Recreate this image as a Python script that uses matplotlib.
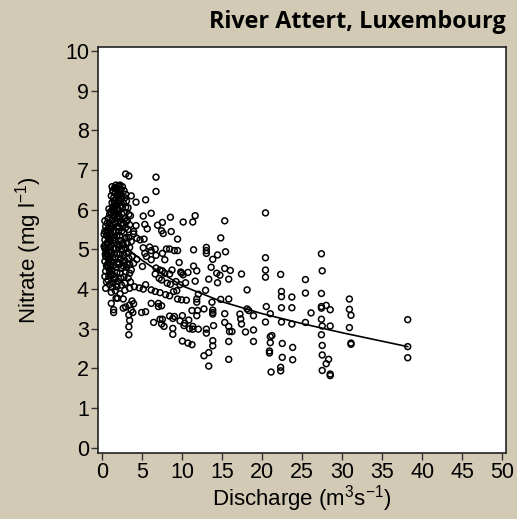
import numpy as np
import matplotlib
matplotlib.use("Agg")
import matplotlib.pyplot as plt

plt.rcParams['font.family'] = ['Liberation Sans', 'DejaVu Sans']
plt.rcParams['mathtext.fontset'] = 'custom'
plt.rcParams['mathtext.rm'] = 'Liberation Sans'
plt.rcParams['mathtext.it'] = 'Liberation Sans'

# discharge (m3/s) and nitrate (mg/l) samples, low-flow cluster first
q_low = [0.3, 0.4, 0.3, 0.5, 0.3, 0.4, 0.3, 0.5, 0.4, 0.3, 0.5, 0.4, 0.3, 0.5, 0.4, 0.6, 0.6, 0.6, 0.6, 0.6, 0.2, 0.2,
         0.8, 0.9, 0.7, 0.9, 0.8, 0.7, 0.9, 0.8, 0.7, 0.9, 0.8, 0.7, 0.9, 0.8, 0.7, 0.9, 0.8, 0.9, 1.0, 1.0, 1.0, 1.0, 1.0, 1.0,
         1.2, 1.3, 1.1, 1.4, 1.2, 1.3, 1.1, 1.4, 1.2, 1.3, 1.1, 1.4, 1.2, 1.3, 1.1, 1.4, 1.2, 1.3, 1.1, 1.4, 1.2, 1.3, 1.5, 1.2,
         1.5, 1.5, 1.5, 1.5, 1.5,
         1.7, 1.8, 1.6, 1.9, 1.7, 1.8, 1.6, 1.9, 1.7, 1.8, 1.6, 1.9, 1.7, 1.8, 1.6, 1.9, 1.7, 1.8, 1.6, 1.9, 1.7, 1.8, 1.6, 1.9,
         2.0, 2.0, 2.0, 2.0, 2.0, 2.0, 1.8,
         2.2, 2.3, 2.1, 2.4, 2.2, 2.3, 2.1, 2.4, 2.2, 2.3, 2.1, 2.4, 2.2, 2.3, 2.1, 2.4, 2.2, 2.3, 2.1, 2.4, 2.2, 2.3,
         2.5, 2.5, 2.5, 2.5, 2.5, 2.4, 2.2,
         2.7, 2.8, 2.6, 2.9, 2.7, 2.8, 2.6, 2.9, 2.7, 2.8, 2.6, 2.9, 2.7, 2.8, 2.6, 2.9, 2.7, 2.8, 3.0, 3.0, 3.0, 3.0, 3.0, 2.9,
         3.2, 3.3, 3.1, 3.4, 3.2, 3.3, 3.1, 3.4, 3.2, 3.3, 3.1, 3.4, 3.2, 3.5, 3.6, 3.5,
         1.35, 1.65, 1.95, 2.25, 1.45, 1.75, 2.05, 2.35, 1.25, 1.55, 1.85, 2.15, 0.55, 0.85, 0.45, 0.75, 1.05, 0.35, 0.65, 0.95]
no3_low = [5.72, 5.58, 5.46, 5.35, 5.24, 5.12, 5.02, 4.93, 4.82, 4.70, 4.58, 4.45, 4.32, 4.18, 4.02, 5.66, 5.40, 5.15, 4.88, 4.62, 5.38, 5.08,
           6.02, 5.88, 5.78, 5.66, 5.55, 5.46, 5.36, 5.26, 5.16, 5.06, 4.96, 4.86, 4.76, 4.66, 4.54, 4.44, 4.33, 4.12, 5.95, 5.50, 5.22, 4.92, 4.60, 4.38,
           6.58, 6.48, 6.35, 6.30, 6.18, 6.05, 5.92, 5.85, 5.74, 5.62, 5.52, 5.44, 5.33, 5.22, 5.12, 5.03, 4.92, 4.80, 4.70, 4.60, 4.48, 4.36, 4.25, 4.05,
           6.55, 6.15, 5.70, 5.30, 4.88,
           6.62, 6.52, 6.42, 6.38, 6.28, 6.18, 6.08, 6.00, 5.90, 5.78, 5.66, 5.58, 5.46, 5.35, 5.24, 5.14, 5.02, 4.90, 4.78, 4.68, 4.55, 4.42, 4.30, 4.20,
           6.60, 6.25, 5.85, 5.45, 5.05, 4.62, 4.12,
           6.62, 6.50, 6.44, 6.34, 6.22, 6.10, 5.98, 5.90, 5.78, 5.64, 5.55, 5.46, 5.34, 5.22, 5.10, 5.00, 4.88, 4.76, 4.64, 4.52, 4.40, 4.28,
           6.58, 6.05, 5.60, 5.15, 4.70, 4.10, 3.88,
           6.48, 6.30, 6.18, 6.06, 5.92, 5.78, 5.66, 5.55, 5.42, 5.28, 5.12, 5.02, 4.86, 4.72, 4.58, 4.44, 4.30, 4.15, 6.22, 5.70, 5.30, 4.90, 4.55, 3.55,
           6.05, 5.88, 5.74, 5.62, 5.50, 5.30, 5.15, 5.05, 4.92, 4.78, 4.62, 4.40, 4.28, 4.18, 5.20, 5.85,
           6.45, 6.55, 6.35, 6.50, 6.22, 6.12, 6.40, 6.28, 5.98, 5.95, 6.05, 5.82, 5.48, 5.28, 4.98, 4.75, 4.55, 4.88, 5.18, 5.60]

q_mid = [2.9, 3.3, 6.7, 6.7, 5.4, 4.2, 3.6, 2.9, 6.1, 5.1, 8.5, 7.5, 6.9, 5.3, 4.2, 5.6, 7.4, 7.6, 3.9, 3.9,
         8.6, 9.4, 4.3, 4.7, 5.2, 5.1, 5.9, 6.1, 6.6, 8.0, 8.4, 9.0, 9.4, 7.5, 6.7, 5.3, 5.5, 3.7, 4.3, 6.1,
         7.8, 9.6, 5.0, 3.9, 3.4, 6.7, 7.2, 7.5, 8.7, 3.6, 7.8, 8.4, 6.6, 9.9, 7.1, 7.4, 8.1, 8.5, 9.2, 9.7,
         5.4, 6.1, 6.6, 7.2, 8.9, 9.3, 4.6, 5.1, 3.4, 4.0, 2.8, 1.8, 1.6, 1.1, 1.1, 1.7, 2.6, 3.7, 3.9, 3.4,
         1.4, 1.4, 2.6, 3.6, 3.8, 4.9, 5.4, 7.0, 7.0, 7.4, 6.1, 7.9, 8.4, 9.4, 9.9, 6.4, 7.2, 7.5, 7.4, 7.7,
         8.4, 8.8, 9.0, 9.7, 10.3, 10.9, 8.8, 8.8, 3.3, 3.4, 3.3, 3.3, 0.7, 1.35, 1.9]
no3_mid = [6.90, 6.85, 6.82, 6.46, 6.25, 6.19, 6.35, 6.39, 5.91, 5.84, 5.81, 5.68, 5.61, 5.63, 5.60, 5.52, 5.47, 5.40, 5.45, 5.39,
           5.45, 5.26, 5.28, 5.24, 5.26, 5.04, 5.06, 4.97, 5.01, 5.01, 5.01, 4.97, 4.97, 4.90, 4.85, 4.90, 4.82, 4.82, 4.75, 4.74,
           4.74, 4.67, 4.57, 4.65, 4.62, 4.53, 4.48, 4.46, 4.48, 4.48, 4.40, 4.38, 4.38, 4.40, 4.27, 4.23, 4.15, 4.12, 4.19, 4.11,
           4.11, 3.98, 3.94, 3.91, 3.94, 3.96, 4.03, 4.00, 4.02, 4.06, 3.97, 4.06, 3.96, 3.92, 3.64, 3.77, 3.75, 3.70, 3.63, 3.60,
           3.48, 3.41, 3.52, 3.47, 3.41, 3.41, 3.43, 3.64, 3.56, 3.58, 3.64, 3.86, 3.83, 3.75, 3.73, 3.16, 3.24, 3.24, 3.12, 3.06,
           3.32, 3.26, 3.31, 3.20, 3.14, 3.00, 3.01, 2.86, 3.35, 3.21, 3.05, 2.85, 4.23, 4.15, 3.77]

q_high = [11.6, 11.3, 10.1, 15.3, 20.4, 14.8, 11.4, 13.0, 13.0, 13.0, 15.4, 20.4, 27.4, 14.4, 13.8, 11.4, 13.6, 15.3, 16.0, 11.8,
          9.8, 10.7, 14.3, 14.7, 10.1, 17.4, 20.4, 20.4, 22.3, 27.5, 25.4, 10.4, 11.6, 13.3, 14.4, 15.8, 12.9, 18.1, 22.4, 22.4,
          23.7, 25.4, 27.4, 12.0, 10.5, 11.8, 11.8, 13.7, 15.8, 14.8, 20.5, 22.4, 23.7, 27.4, 27.4, 28.0, 28.5, 11.2, 11.9, 12.7,
          13.8, 13.8, 13.8, 18.1, 18.3, 10.0, 11.8, 10.8, 15.3, 17.2, 18.9, 21.0, 26.1, 10.2, 17.3, 17.4, 20.4, 22.4, 23.7, 25.4,
          27.4, 27.5, 28.5, 11.3, 11.3, 12.0, 13.0, 13.0, 13.9, 15.3, 15.8, 15.9, 16.2, 17.9, 18.9, 21.0, 21.2, 27.4, 10.0, 10.7,
          11.2, 13.8, 13.8, 15.8, 18.9, 21.0, 22.5, 23.8, 27.5, 13.3, 12.7, 20.9, 20.9, 22.5, 23.8, 27.5, 28.3, 28.0, 15.8, 13.3,
          21.1, 22.3, 22.3, 27.5, 28.5, 28.5, 30.9, 30.9, 31.1, 38.2, 30.9, 31.1, 31.1, 38.2, 38.2]
no3_high = [5.85, 5.69, 5.69, 5.72, 5.92, 5.29, 4.99, 5.05, 4.97, 4.90, 4.94, 4.79, 4.89, 4.86, 4.75, 4.58, 4.55, 4.52, 4.47, 4.46,
            4.43, 4.42, 4.40, 4.35, 4.36, 4.38, 4.48, 4.30, 4.37, 4.46, 4.24, 4.16, 4.20, 4.25, 4.16, 4.25, 3.97, 3.98, 3.94, 3.81,
            3.80, 3.90, 3.89, 3.87, 3.72, 3.75, 3.67, 3.67, 3.75, 3.74, 3.56, 3.53, 3.53, 3.56, 3.52, 3.59, 3.48, 3.46, 3.46, 3.50,
            3.47, 3.41, 3.37, 3.50, 3.46, 3.33, 3.33, 3.22, 3.38, 3.37, 3.33, 3.38, 3.40, 3.08, 3.25, 3.12, 3.17, 3.17, 3.12, 3.16,
            3.24, 3.07, 3.07, 2.99, 3.06, 2.99, 2.99, 2.89, 3.08, 3.16, 3.06, 2.93, 2.93, 2.92, 2.97, 2.80, 2.83, 2.85, 2.69, 2.64,
            2.60, 2.70, 2.57, 2.68, 2.68, 2.65, 2.63, 2.53, 2.58, 2.40, 2.32, 2.44, 2.39, 2.28, 2.22, 2.34, 2.23, 2.12, 2.23, 2.06,
            1.91, 2.03, 1.94, 1.95, 1.86, 1.82, 3.75, 3.49, 3.34, 3.23, 3.03, 2.64, 2.61, 2.55, 2.27]

# fitted trend
fit_q = [2.6, 5.0, 7.0, 10.0, 15.0, 20.0, 25.0, 30.0, 38.2]
fit_no3 = [5.10, 4.72, 4.45, 4.08, 3.68, 3.38, 3.13, 2.90, 2.55]

discharge = np.array(q_low + q_mid + q_high)
nitrate = np.array(no3_low + no3_mid + no3_high)

bg = '#D3CAB6'
fig = plt.figure(figsize=(5.17, 5.19), dpi=100, facecolor=bg)
ax = fig.add_axes([98/517, 66/519, 408/517, 406/519])
ax.set_facecolor('white')

ax.scatter(discharge, nitrate, s=18, facecolors='none', edgecolors='black', linewidths=1.1, zorder=3)
ax.plot(fit_q, fit_no3, color='black', lw=1.2, zorder=4)

ax.set_xlim(-0.56, 50.5)
ax.set_ylim(-0.13, 10.1)
ax.set_xticks(np.arange(0, 51, 5))
ax.set_yticks(np.arange(0, 11, 1))
ax.tick_params(labelsize=15.5, length=5, width=1.0, color='#333333', pad=1.5)
for s in ax.spines.values():
    s.set_linewidth(1.2)
    s.set_color('#222222')

ax.set_xlabel('Discharge (m$^3$s$^{-1}$)', fontsize=16, labelpad=0)
ax.set_ylabel('Nitrate (mg l$^{-1}$)', fontsize=16, labelpad=15)

fig.text(506/517, 1 - 22/519, 'River Attert, Luxembourg', ha='right', va='center',
         fontsize=16.8, fontweight='bold', family=['Open Sans', 'DejaVu Sans'])

plt.savefig('out.png', dpi=100, facecolor=bg)
